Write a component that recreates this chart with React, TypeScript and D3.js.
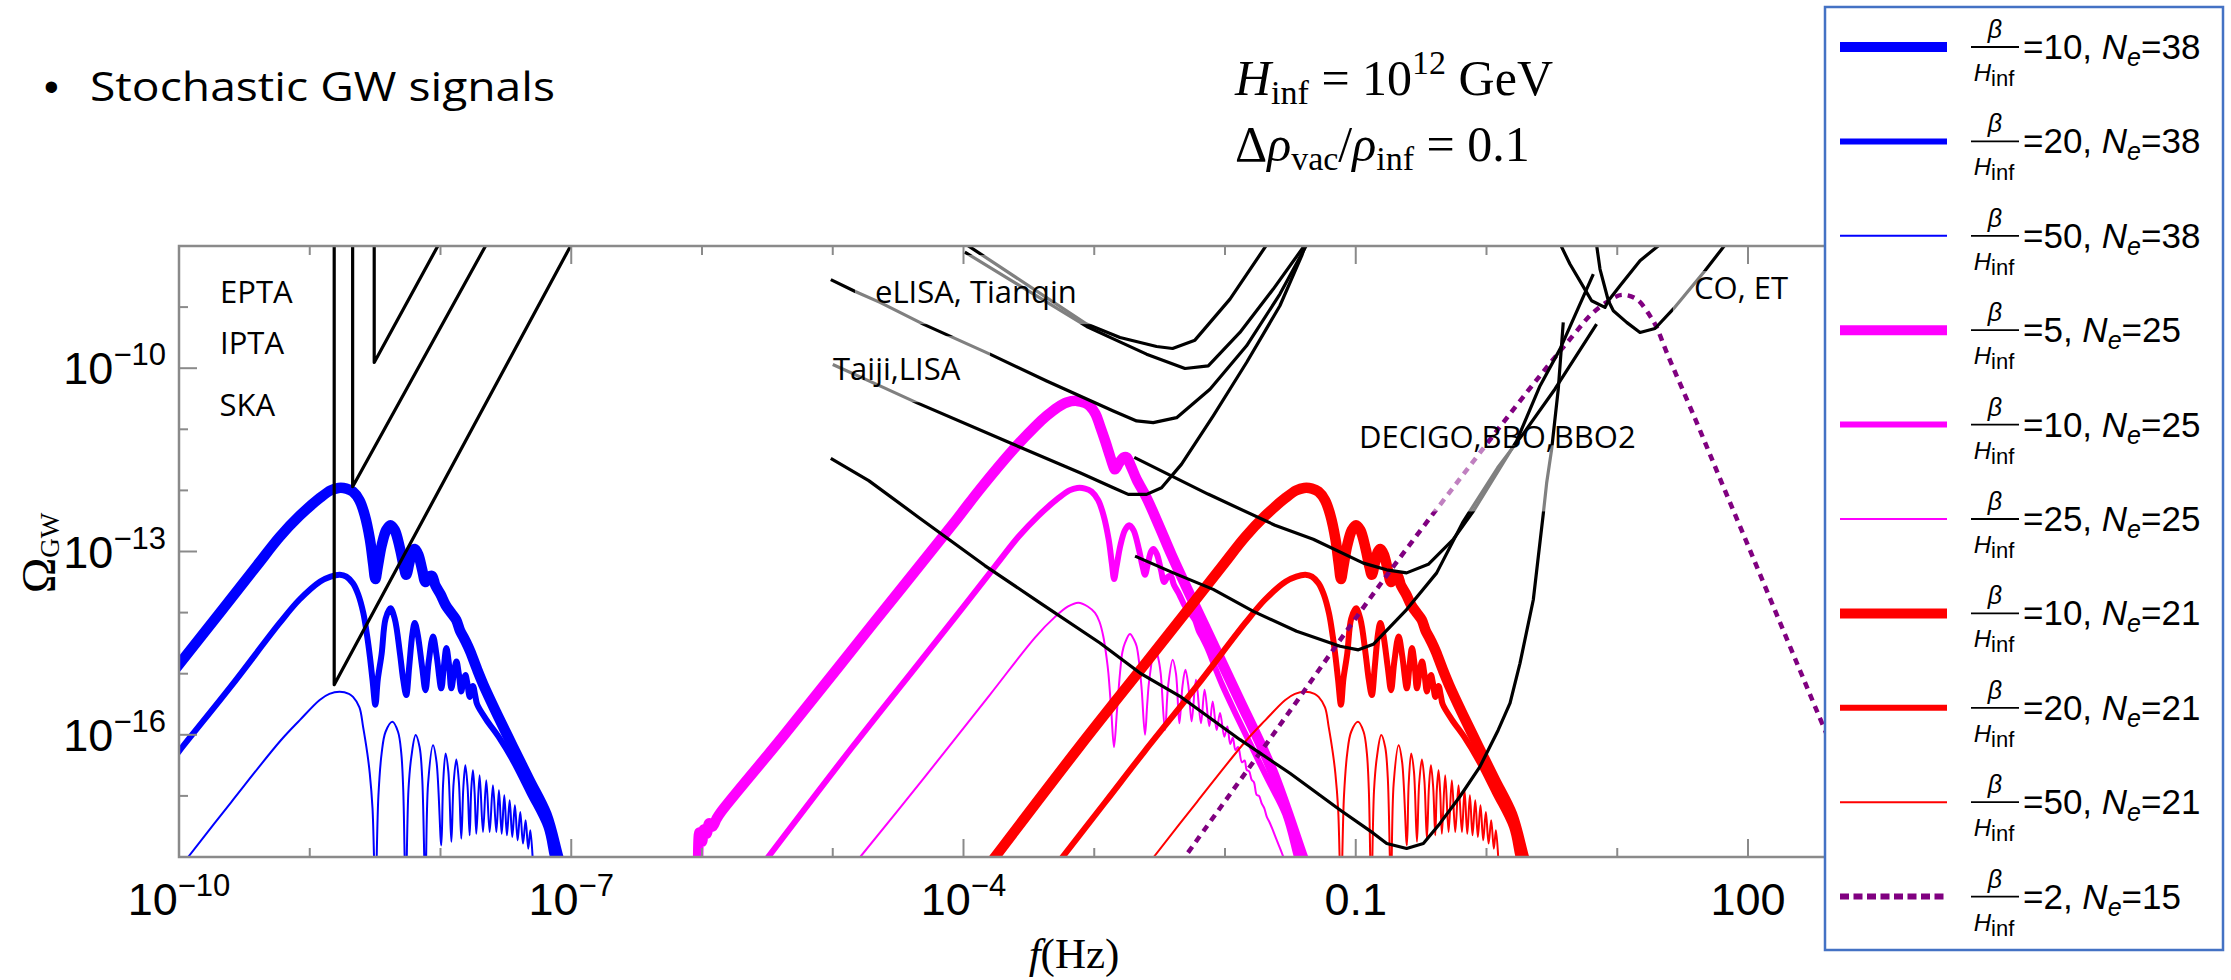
import React from 'react';
import * as d3 from 'd3';

type P = [number, number];

// ---------------- axes ----------------
const xMajorExps = [-10, -7, -4, -1, 2];
const xMajorLabels: [string, string][] = [['10', '−10'], ['10', '−7'], ['10', '−4'], ['0.1', ''], ['100', '']];
const xDecades = [-10, -9, -8, -7, -6, -5, -4, -3, -2, -1, 0, 1, 2, 3];
const yMajorExps = [-10, -13, -16];
const yMajorLabels: [string, string][] = [['10', '−10'], ['10', '−13'], ['10', '−16']];
const yDecades = [-18, -17, -16, -15, -14, -13, -12, -11, -10, -9, -8];

// ---------------- signal data: [log10 f, log10 Omega] ----------------
// beta/H=10, Ne=38
const blue10: P[] = [[-11.25,-18.3],[-10.5,-16.2],[-10,-14.85],[-9.66,-13.93],[-9.4,-13.22],[-9.23,-12.76],[-9.08,-12.42],[-8.92,-12.12],[-8.84,-12.0],[-8.78,-11.96],[-8.72,-11.97],[-8.67,-12.02],[-8.62,-12.16],[-8.58,-12.4],[-8.54,-12.8],[-8.515,-13.2],[-8.498,-13.45],[-8.48,-13.25],[-8.45,-12.9],[-8.415,-12.65],[-8.383,-12.57],[-8.35,-12.65],[-8.31,-12.95],[-8.28,-13.25],[-8.262,-13.38],[-8.24,-13.2],[-8.215,-13.0],[-8.197,-12.96],[-8.17,-13.05],[-8.14,-13.3],[-8.115,-13.5],[-8.09,-13.42],[-8.065,-13.4],[-8.04,-13.55],[-8.0,-13.7],[-7.96,-13.88],[-7.92,-14.0],[-7.88,-14.12],[-7.85,-14.3],[-7.82,-14.42],[-7.79,-14.55],[-7.77,-14.65],[-7.72,-14.93],[-7.67,-15.19],[-7.57,-15.65],[-7.445,-16.2],[-7.32,-16.74],[-7.19,-17.3],[-7.1,-18.0],[-7.06,-18.3]];
// beta/H=20, Ne=38
const blue20: P[] = [[-10.7,-18.2],[-10.3,-17.1],[-10,-16.27],[-9.6,-15.2],[-9.23,-14.17],[-9.08,-13.79],[-8.92,-13.49],[-8.84,-13.41],[-8.77,-13.38],[-8.72,-13.41],[-8.67,-13.52],[-8.63,-13.7],[-8.59,-14.01],[-8.56,-14.4],[-8.54,-14.72],[-8.52,-15.1],[-8.498,-15.51],[-8.48,-15.1],[-8.45,-14.67],[-8.42,-14.1],[-8.383,-13.93],[-8.35,-14.1],[-8.31,-14.67],[-8.285,-15.1],[-8.262,-15.35],[-8.24,-14.9],[-8.215,-14.35],[-8.197,-14.17],[-8.175,-14.35],[-8.14,-14.9],[-8.115,-15.27],[-8.09,-14.8],[-8.057,-14.39],[-8.03,-14.7],[-7.994,-15.24],[-7.975,-14.9],[-7.955,-14.58],[-7.935,-14.85],[-7.917,-15.24],[-7.895,-14.95],[-7.878,-14.8],[-7.86,-15.0],[-7.841,-15.29],[-7.825,-15.1],[-7.81,-15.02],[-7.795,-15.15],[-7.777,-15.38],[-7.765,-15.25],[-7.752,-15.2],[-7.735,-15.35],[-7.72,-15.5],[-7.65,-15.75],[-7.55,-16.05],[-7.446,-16.42],[-7.32,-16.95],[-7.19,-17.51],[-7.14,-18.0],[-7.1,-18.3]];
// beta/H=50, Ne=38
const blue50: P[] = [[-9.93,-18.0],[-9.6,-17.1],[-9.229,-16.11],[-9.076,-15.76],[-8.924,-15.43],[-8.85,-15.33],[-8.771,-15.295],[-8.7,-15.33],[-8.669,-15.38],[-8.62,-15.55],[-8.592,-15.87],[-8.56,-16.3],[-8.541,-16.63],[-8.52,-17.2],[-8.498,-18.6],[-8.475,-17.0],[-8.45,-16.3],[-8.42,-15.95],[-8.368,-15.787],[-8.325,-15.95],[-8.3,-16.3],[-8.285,-16.9],[-8.266,-18.6],[-8.245,-16.9],[-8.223,-16.36],[-8.19,-16.005],[-8.16,-16.2],[-8.14,-16.7],[-8.116,-18.5],[-8.095,-16.8],[-8.057,-16.17],[-8.03,-16.45],[-7.994,-17.81],[-7.98,-16.8],[-7.961,-16.306],[-7.94,-16.6],[-7.917,-17.75],[-7.9,-16.8],[-7.879,-16.404],[-7.86,-16.75],[-7.841,-17.7],[-7.825,-16.85],[-7.81,-16.497],[-7.793,-16.85],[-7.777,-17.645],[-7.765,-16.9],[-7.752,-16.579],[-7.739,-16.95],[-7.726,-17.62],[-7.701,-16.661],[-7.675,-17.59],[-7.65,-16.743],[-7.624,-17.59],[-7.599,-16.825],[-7.573,-17.59],[-7.553,-16.907],[-7.532,-17.62],[-7.512,-16.989],[-7.492,-17.645],[-7.471,-17.071],[-7.451,-17.672],[-7.431,-17.153],[-7.41,-17.727],[-7.39,-17.262],[-7.369,-17.781],[-7.349,-17.399],[-7.329,-17.863],[-7.313,-17.563],[-7.293,-18.1]];
// beta/H=5, Ne=25
const magenta5: P[] = [[-6.03,-18.4],[-6.02,-17.6],[-6.0,-17.75],[-5.985,-17.55],[-5.965,-17.62],[-5.945,-17.45],[-5.92,-17.5],[-5.89,-17.38],[-5.85,-17.25],[-5.374,-16.01],[-4.691,-14.18],[-4.053,-12.475],[-3.874,-11.98],[-3.619,-11.33],[-3.45,-10.95],[-3.364,-10.78],[-3.28,-10.64],[-3.211,-10.56],[-3.135,-10.535],[-3.07,-10.57],[-3.033,-10.62],[-2.99,-10.75],[-2.956,-10.945],[-2.915,-11.2],[-2.88,-11.437],[-2.855,-11.6],[-2.842,-11.655],[-2.81,-11.55],[-2.775,-11.46],[-2.752,-11.46],[-2.72,-11.6],[-2.676,-11.82],[-2.6,-12.12],[-2.5,-12.6],[-2.41,-13.05],[-2.16,-14.2],[-1.9,-15.38],[-1.64,-16.58],[-1.405,-18.0],[-1.355,-18.3]];
// beta/H=10, Ne=25
const magenta10: P[] = [[-5.6,-18.3],[-4.85,-16.2],[-4.35,-14.85],[-4.01,-13.93],[-3.75,-13.22],[-3.58,-12.76],[-3.43,-12.42],[-3.27,-12.12],[-3.19,-12.0],[-3.13,-11.96],[-3.07,-11.97],[-3.02,-12.02],[-2.97,-12.16],[-2.93,-12.4],[-2.89,-12.8],[-2.865,-13.2],[-2.848,-13.45],[-2.83,-13.25],[-2.8,-12.9],[-2.765,-12.65],[-2.733,-12.57],[-2.7,-12.65],[-2.66,-12.95],[-2.63,-13.25],[-2.612,-13.38],[-2.59,-13.2],[-2.565,-13.0],[-2.547,-12.96],[-2.52,-13.05],[-2.49,-13.3],[-2.465,-13.5],[-2.44,-13.42],[-2.415,-13.4],[-2.39,-13.55],[-2.35,-13.7],[-2.31,-13.88],[-2.27,-14.0],[-2.23,-14.12],[-2.2,-14.3],[-2.17,-14.42],[-2.14,-14.55],[-2.12,-14.65],[-2.07,-14.93],[-2.02,-15.19],[-1.92,-15.65],[-1.795,-16.2],[-1.67,-16.74],[-1.54,-17.3],[-1.45,-18.0],[-1.41,-18.3]];
// beta/H=25, Ne=25
const magenta25: P[] = [[-4.79,-18.0],[-4.3,-16.7],[-3.8,-15.35],[-3.45,-14.4],[-3.3,-14.07],[-3.2,-13.9],[-3.122,-13.84],[-3.05,-13.9],[-2.994,-14.005],[-2.96,-14.15],[-2.931,-14.388],[-2.905,-14.75],[-2.892,-14.989],[-2.87,-15.6],[-2.849,-16.2],[-2.826,-15.6],[-2.803,-14.989],[-2.785,-14.65],[-2.765,-14.497],[-2.727,-14.35],[-2.695,-14.45],[-2.676,-14.552],[-2.655,-14.85],[-2.637,-15.262],[-2.612,-16.0],[-2.595,-15.5],[-2.579,-15.098],[-2.536,-14.579],[-2.51,-14.75],[-2.492,-14.989],[-2.459,-15.92],[-2.435,-15.2],[-2.40,-14.77],[-2.375,-15.0],[-2.349,-15.81],[-2.325,-15.2],[-2.303,-14.934],[-2.28,-15.2],[-2.255,-15.78],[-2.222,-15.098],[-2.184,-15.81],[-2.156,-15.262],[-2.12,-15.86],[-2.094,-15.453],[-2.064,-15.92],[-2.038,-15.645],[-2.005,-16.03],[-1.982,-15.863],[-1.96,-16.15],[-1.94,-16.05],[-1.92,-16.25],[-1.9,-16.2],[-1.87,-16.45],[-1.85,-16.42],[-1.834,-16.574],[-1.815,-16.6],[-1.796,-16.737],[-1.778,-16.78],[-1.758,-16.983],[-1.74,-17.0],[-1.72,-17.12],[-1.70,-17.2],[-1.681,-17.339],[-1.656,-17.448],[-1.605,-17.72],[-1.554,-18.0],[-1.53,-18.2]];
// beta/H=10, Ne=21
const red10: P[] = [[-3.865,-18.3],[-3.115,-16.2],[-2.615,-14.85],[-2.275,-13.93],[-2.015,-13.22],[-1.845,-12.76],[-1.695,-12.42],[-1.535,-12.12],[-1.455,-12.0],[-1.395,-11.96],[-1.335,-11.97],[-1.285,-12.02],[-1.235,-12.16],[-1.195,-12.4],[-1.155,-12.8],[-1.13,-13.2],[-1.113,-13.45],[-1.095,-13.25],[-1.065,-12.9],[-1.03,-12.65],[-0.998,-12.57],[-0.965,-12.65],[-0.925,-12.95],[-0.895,-13.25],[-0.877,-13.38],[-0.855,-13.2],[-0.83,-13.0],[-0.812,-12.96],[-0.785,-13.05],[-0.755,-13.3],[-0.73,-13.5],[-0.705,-13.42],[-0.68,-13.4],[-0.655,-13.55],[-0.615,-13.7],[-0.575,-13.88],[-0.535,-14.0],[-0.495,-14.12],[-0.465,-14.3],[-0.435,-14.42],[-0.405,-14.55],[-0.385,-14.65],[-0.335,-14.93],[-0.285,-15.19],[-0.185,-15.65],[-0.06,-16.2],[0.065,-16.74],[0.195,-17.3],[0.285,-18.0],[0.325,-18.3]];
// beta/H=20, Ne=21
const red20: P[] = [[-3.315,-18.2],[-2.915,-17.1],[-2.615,-16.27],[-2.215,-15.2],[-1.845,-14.17],[-1.695,-13.79],[-1.535,-13.49],[-1.455,-13.41],[-1.385,-13.38],[-1.335,-13.41],[-1.285,-13.52],[-1.245,-13.7],[-1.205,-14.01],[-1.175,-14.4],[-1.155,-14.72],[-1.135,-15.1],[-1.113,-15.51],[-1.095,-15.1],[-1.065,-14.67],[-1.035,-14.1],[-0.998,-13.93],[-0.965,-14.1],[-0.925,-14.67],[-0.9,-15.1],[-0.877,-15.35],[-0.855,-14.9],[-0.83,-14.35],[-0.812,-14.17],[-0.79,-14.35],[-0.755,-14.9],[-0.73,-15.27],[-0.705,-14.8],[-0.672,-14.39],[-0.645,-14.7],[-0.609,-15.24],[-0.59,-14.9],[-0.57,-14.58],[-0.55,-14.85],[-0.532,-15.24],[-0.51,-14.95],[-0.493,-14.8],[-0.475,-15.0],[-0.456,-15.29],[-0.44,-15.1],[-0.425,-15.02],[-0.41,-15.15],[-0.392,-15.38],[-0.38,-15.25],[-0.367,-15.2],[-0.35,-15.35],[-0.335,-15.5],[-0.265,-15.75],[-0.165,-16.05],[-0.061,-16.42],[0.065,-16.95],[0.195,-17.51],[0.245,-18.0],[0.285,-18.3]];
// beta/H=50, Ne=21
const red50: P[] = [[-2.545,-18.0],[-2.215,-17.1],[-1.844,-16.11],[-1.691,-15.76],[-1.539,-15.43],[-1.465,-15.33],[-1.386,-15.295],[-1.315,-15.33],[-1.284,-15.38],[-1.235,-15.55],[-1.207,-15.87],[-1.175,-16.3],[-1.156,-16.63],[-1.135,-17.2],[-1.113,-18.6],[-1.09,-17.0],[-1.065,-16.3],[-1.035,-15.95],[-0.983,-15.787],[-0.94,-15.95],[-0.915,-16.3],[-0.9,-16.9],[-0.881,-18.6],[-0.86,-16.9],[-0.838,-16.36],[-0.805,-16.005],[-0.775,-16.2],[-0.755,-16.7],[-0.731,-18.5],[-0.71,-16.8],[-0.672,-16.17],[-0.645,-16.45],[-0.609,-17.81],[-0.595,-16.8],[-0.576,-16.306],[-0.555,-16.6],[-0.532,-17.75],[-0.515,-16.8],[-0.494,-16.404],[-0.475,-16.75],[-0.456,-17.7],[-0.44,-16.85],[-0.425,-16.497],[-0.408,-16.85],[-0.392,-17.645],[-0.38,-16.9],[-0.367,-16.579],[-0.354,-16.95],[-0.341,-17.62],[-0.316,-16.661],[-0.29,-17.59],[-0.265,-16.743],[-0.239,-17.59],[-0.214,-16.825],[-0.188,-17.59],[-0.168,-16.907],[-0.147,-17.62],[-0.127,-16.989],[-0.107,-17.645],[-0.086,-17.071],[-0.066,-17.672],[-0.046,-17.153],[-0.025,-17.727],[-0.005,-17.262],[0.016,-17.781],[0.036,-17.399],[0.056,-17.863],[0.072,-17.563],[0.092,-18.1]];
// beta/H=2, Ne=15
const purple2: P[] = [[-2.45,-18.45],[-2.306,-18.0],[-1.6,-15.9],[-0.8,-13.5],[-0.02,-11.3],[0.41,-10.12],[0.66,-9.47],[0.8,-9.12],[0.92,-8.92],[1.034,-8.8],[1.148,-8.87],[1.25,-9.14],[1.301,-9.33],[1.378,-9.74],[1.6,-10.85],[1.8,-11.88],[2.0,-12.9],[2.2,-13.93],[2.4,-14.96],[2.57,-15.83],[2.9,-17.5]];

// ---------------- sensitivity curves ----------------
const pta1: P[] = [[-8.813,-7.9],[-8.813,-15.18],[-6.98,-7.9]];
const pta2: P[] = [[-8.672,-7.9],[-8.672,-11.94],[-7.63,-7.9]];
const pta3: P[] = [[-8.507,-7.9],[-8.507,-9.905],[-7.995,-7.9]];
const lisaA: P[] = [[-3.99,-7.96],[-3.058,-9.278],[-2.803,-9.497],[-2.523,-9.645],[-2.401,-9.677],[-2.23,-9.541],[-1.962,-8.869],[-1.682,-7.983],[-1.665,-7.9]];
const lisaB: P[] = [[-3.99,-8.10],[-3.058,-9.317],[-2.854,-9.52],[-2.6,-9.77],[-2.306,-10.005],[-2.128,-9.961],[-1.886,-9.415],[-1.631,-8.705],[-1.389,-7.983],[-1.372,-7.9]];
const lisaC: P[] = [[-5.015,-8.55],[-4.828,-8.745],[-4.639,-8.923],[-4.308,-9.278],[-3.798,-9.77],[-3.364,-10.21],[-2.854,-10.7],[-2.676,-10.863],[-2.549,-10.89],[-2.37,-10.81],[-2.115,-10.344],[-1.835,-9.634],[-1.58,-8.787],[-1.376,-7.983],[-1.36,-7.9]];
const lisaD: P[] = [[-5.0,-9.94],[-4.639,-10.289],[-4.359,-10.563],[-3.619,-11.246],[-3.109,-11.71],[-2.854,-11.956],[-2.74,-12.065],[-2.6,-12.065],[-2.485,-11.956],[-2.332,-11.57],[-2.09,-10.78],[-1.835,-9.907],[-1.58,-8.978],[-1.413,-8.158],[-1.37,-7.9]];
const decigo1: P[] = [[-5.015,-11.476],[-4.725,-11.84],[-4.35,-12.43],[-3.837,-13.23],[-3.415,-13.84],[-2.956,-14.497],[-2.65,-14.99],[-2.344,-15.37],[-1.885,-16.08],[-1.503,-16.63],[-1.12,-17.23],[-0.866,-17.61],[-0.763,-17.78],[-0.611,-17.86],[-0.483,-17.78],[-0.356,-17.45],[-0.203,-17.01],[-0.05,-16.52],[0.09,-15.92],[0.18,-15.48],[0.256,-14.83],[0.358,-13.79],[0.435,-12.37],[0.46,-11.88],[0.498,-11.33],[0.549,-10.34],[0.587,-9.25]];
const decigo2: P[] = [[-2.694,-11.46],[-2.13,-12.06],[-1.618,-12.57],[-1.325,-12.8],[-0.942,-13.19],[-0.764,-13.3],[-0.611,-13.35],[-0.445,-13.21],[-0.254,-12.8],[-0.1,-12.34],[0.231,-11.19],[0.409,-10.29],[0.562,-9.688],[0.817,-8.459]];
const decigo3: P[] = [[-2.688,-13.076],[-2.395,-13.35],[-2.09,-13.62],[-1.783,-13.98],[-1.452,-14.306],[-1.12,-14.55],[-0.98,-14.61],[-0.866,-14.52],[-0.611,-13.95],[-0.381,-13.35],[-0.178,-12.51],[0.085,-11.63],[0.289,-11.05],[0.524,-10.34],[0.842,-9.28]];
const etA: P[] = [[0.55,-7.9],[0.567,-7.983],[0.638,-8.295],[0.766,-8.76],[0.804,-8.896],[0.906,-9.005],[0.932,-8.896],[1.021,-8.65],[1.174,-8.24],[1.322,-7.983],[1.34,-7.9]];
const etB: P[] = [[0.84,-7.9],[0.842,-7.983],[0.868,-8.377],[0.932,-8.896],[0.97,-9.06],[1.072,-9.25],[1.174,-9.415],[1.289,-9.35],[1.429,-9.03],[1.671,-8.404],[1.824,-7.983],[1.85,-7.9]];

// ---------------- annotations ----------------
const detectorNames = ['EPTA', 'IPTA', 'SKA', 'eLISA, Tianqin', 'Taiji,LISA', 'DECIGO,BBO,BBO2', 'CO, ET'];
const detectorAnchors: P[] = [[-9.686,-8.934],[-9.686,-9.77],[-9.69,-10.78],[-4.677,-8.928],[-4.998,-10.197],[-0.975,-11.31],[1.587,-8.86]];
// label boxes (log f0, log f1, log Ω top, log Ω bottom) that fade the curves beneath
const labelBoxes: [number, number, number, number][] = [[-4.83,-2.956,-8.148,-9.279],[-5.136,-3.797,-9.475,-10.557],[-1.082,1.327,-11.262,-12.344],[1.426,2.512,-8.41,-9.279]];

// ---------------- legend ----------------
const legendBeta = ['10', '20', '50', '5', '10', '25', '10', '20', '50', '2'];
const legendNe = ['38', '38', '38', '25', '25', '25', '21', '21', '21', '15'];
const legendColors = ['#0000ff', '#0000ff', '#0000ff', '#ff00ff', '#ff00ff', '#ff00ff', '#ff0000', '#ff0000', '#ff0000', '#800080'];
const legendWidths = [10, 6, 2, 10, 6, 2, 10, 6, 2, 6];

const signals = [
  { d: blue10, c: '#0000ff', w: 10.5 },
  { d: blue20, c: '#0000ff', w: 6 },
  { d: blue50, c: '#0000ff', w: 2 },
  { d: magenta5, c: '#ff00ff', w: 10.5 },
  { d: magenta10, c: '#ff00ff', w: 6 },
  { d: magenta25, c: '#ff00ff', w: 2 },
  { d: red10, c: '#ff0000', w: 10.5 },
  { d: red20, c: '#ff0000', w: 6 },
  { d: red50, c: '#ff0000', w: 2 },
];
const sensitivity = [pta1, pta2, pta3, lisaA, lisaB, lisaC, lisaD, decigo1, decigo2, decigo3, etA, etB];

const PL = 179, PT = 246, PB = 857;
const xScale = d3.scaleLog().domain([1e-10, 1e3]).range([PL, PL + 13 * 130.75]);
const yScale = d3.scaleLog().domain([1e-18, 1e-8]).range([PB, PT]);
const PR = xScale(1e3);
const X = (e: number) => xScale(Math.pow(10, e));
const Y = (e: number) => yScale(Math.pow(10, e));

const smooth = d3.line<P>().x(d => X(d[0])).y(d => Y(d[1])).curve(d3.curveCatmullRom.alpha(0.5));
const straight = d3.line<P>().x(d => X(d[0])).y(d => Y(d[1]));

const sans = 'Liberation Sans, Arial, sans-serif';
const serif = 'Liberation Serif, Times New Roman, serif';
const label = 'Open Sans, sans-serif';
const frameColor = '#8a8a8a';

export default function App() {
  return (
    <svg width={2231} height={980} style={{ position: 'absolute', left: 0, top: 0, display: 'block', background: '#fff' }}>
      <rect x={0} y={0} width={2231} height={980} fill="#fff" />
      <defs>
        <clipPath id="plotClip">
          <rect x={PL} y={PT} width={PR - PL} height={PB - PT} />
        </clipPath>
      </defs>

      {/* title */}
      <text x={44} y={101} fontFamily={sans} fontSize={42}>•</text>
      <text x={90} y={101} fontFamily={label} fontSize={40} textLength={465} lengthAdjust="spacingAndGlyphs">Stochastic GW signals</text>

      <text x={1235} y={95} fontFamily={serif} fontSize={50}>
        <tspan fontStyle="italic">H</tspan>
        <tspan fontSize={34} dy={9}>inf</tspan>
        <tspan dy={-9}> = 10</tspan>
        <tspan fontSize={34} dy={-21}>12</tspan>
        <tspan dy={21}> GeV</tspan>
      </text>
      <text x={1235} y={161} fontFamily={serif} fontSize={50}>
        <tspan>Δ</tspan>
        <tspan fontStyle="italic">ρ</tspan>
        <tspan fontSize={34} dy={9}>vac</tspan>
        <tspan dy={-9}>/</tspan>
        <tspan fontStyle="italic">ρ</tspan>
        <tspan fontSize={34} dy={9}>inf</tspan>
        <tspan dy={-9}> = 0.1</tspan>
      </text>

      {/* plot content */}
      <g clipPath="url(#plotClip)">
        {signals.map((s, i) => (
          <path key={'s' + i} d={smooth(s.d) || ''} fill="none" stroke={s.c} strokeWidth={s.w} strokeLinejoin="round" />
        ))}
        <path d={smooth(purple2) || ''} fill="none" stroke="#800080" strokeWidth={4.5} strokeDasharray="7 6" />
        {sensitivity.map((s, i) => (
          <path key={'k' + i} d={straight(s) || ''} fill="none" stroke="#000" strokeWidth={3.2} strokeLinejoin="round" />
        ))}
        {labelBoxes.map((b, i) => (
          <rect key={'b' + i} x={X(b[0])} y={Y(b[2])} width={X(b[1]) - X(b[0])} height={Y(b[3]) - Y(b[2])} fill="#fff" opacity={0.5} />
        ))}
        {detectorNames.map((n, i) => (
          <text key={'t' + i} x={X(detectorAnchors[i][0])} y={Y(detectorAnchors[i][1])} fontFamily={label} fontSize={31} fill="#000">{n}</text>
        ))}
      </g>

      {/* frame */}
      <rect x={PL} y={PT} width={PR - PL} height={PB - PT} fill="none" stroke={frameColor} strokeWidth={2.5} />
      {xDecades.map(e => {
        const len = xMajorExps.includes(e) ? 18 : 9;
        const x = X(e);
        return (
          <g key={'xt' + e}>
            <line x1={x} x2={x} y1={PB} y2={PB - len} stroke={frameColor} strokeWidth={2} />
            <line x1={x} x2={x} y1={PT} y2={PT + len} stroke={frameColor} strokeWidth={2} />
          </g>
        );
      })}
      {yDecades.map(e => {
        const len = yMajorExps.includes(e) ? 18 : 9;
        const y = Y(e);
        return (
          <g key={'yt' + e}>
            <line x1={PL} x2={PL + len} y1={y} y2={y} stroke={frameColor} strokeWidth={2} />
            <line x1={PR} x2={PR - len} y1={y} y2={y} stroke={frameColor} strokeWidth={2} />
          </g>
        );
      })}

      {/* tick labels */}
      {xMajorExps.map((e, i) => (
        <text key={'xl' + e} x={X(e)} y={915} textAnchor="middle" fontFamily={sans} fontSize={45}>
          {xMajorLabels[i][0]}
          {xMajorLabels[i][1] && <tspan fontSize={31} dy={-19}>{xMajorLabels[i][1]}</tspan>}
        </text>
      ))}
      {yMajorExps.map((e, i) => (
        <text key={'yl' + e} x={166} y={Y(e) + 16} textAnchor="end" fontFamily={sans} fontSize={45}>
          {yMajorLabels[i][0]}
          <tspan fontSize={31} dy={-19}>{yMajorLabels[i][1]}</tspan>
        </text>
      ))}

      {/* axis titles */}
      <text transform={`translate(55,553) rotate(-90)`} textAnchor="middle" fontFamily={serif} fontSize={48}>
        Ω<tspan fontSize={27} dy={4}>GW</tspan>
      </text>
      <text x={1074} y={968} textAnchor="middle" fontFamily={serif} fontSize={43}>
        <tspan fontStyle="italic">f</tspan>(Hz)
      </text>

      {/* legend */}
      <rect x={1825} y={7} width={398} height={943} fill="#fff" stroke="#4472c4" strokeWidth={2.5} />
      {legendBeta.map((b, i) => {
        const cy = 47 + i * 94.4;
        return (
          <g key={'lg' + i}>
            <line x1={1840} x2={1947} y1={cy} y2={cy} stroke={legendColors[i]} strokeWidth={legendWidths[i]}
              strokeDasharray={i === 9 ? '9 4.5' : undefined} />
            <text x={1995} y={cy - 9} textAnchor="middle" fontFamily={sans} fontSize={25} fontStyle="italic">β</text>
            <line x1={1971} x2={2019} y1={cy} y2={cy} stroke="#000" strokeWidth={1.8} />
            <text x={1994} y={cy + 34} textAnchor="middle" fontFamily={sans} fontSize={24}>
              <tspan fontStyle="italic">H</tspan>
              <tspan fontSize={22} dy={5}>inf</tspan>
            </text>
            <text x={2023} y={cy + 12} fontFamily={sans} fontSize={35}>
              {'=' + b + ', '}
              <tspan fontStyle="italic">N</tspan>
              <tspan fontSize={25} dy={7} fontStyle="italic">e</tspan>
              <tspan dy={-7}>{'=' + legendNe[i]}</tspan>
            </text>
          </g>
        );
      })}
    </svg>
  );
}
